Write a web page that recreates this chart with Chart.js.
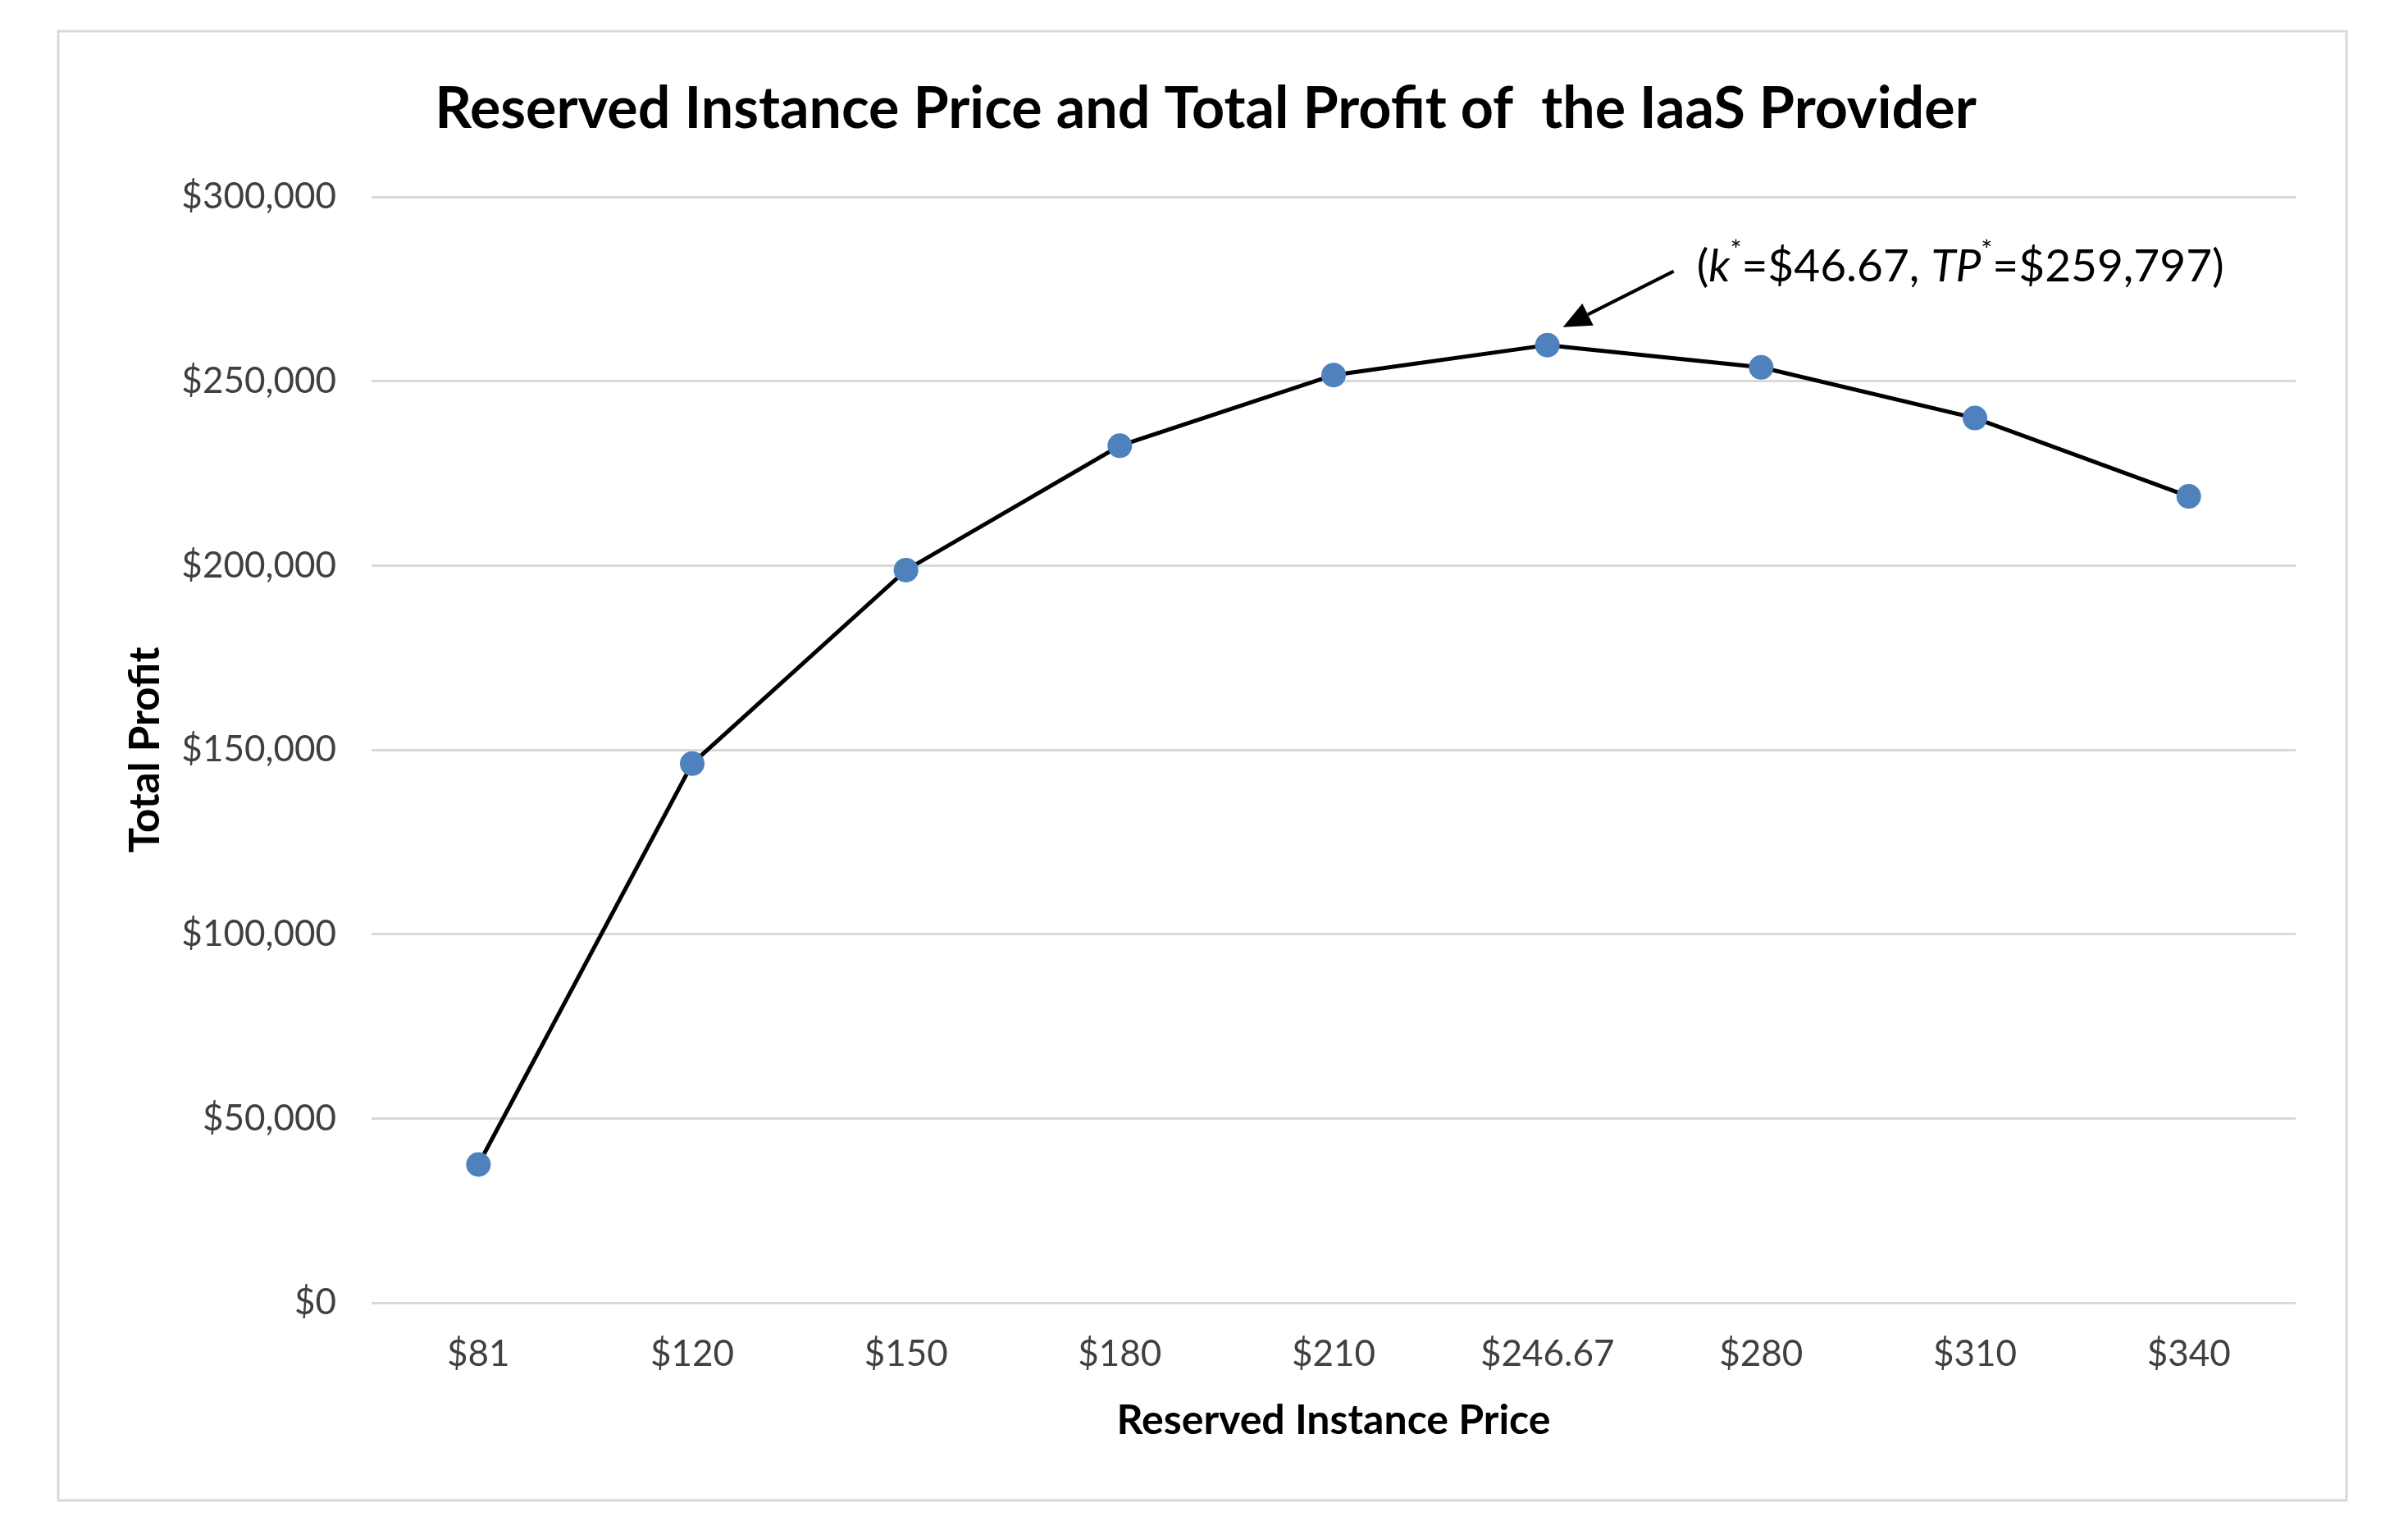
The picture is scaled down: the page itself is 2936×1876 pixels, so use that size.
<!DOCTYPE html>
<html>
<head>
<meta charset="utf-8">
<script src="https://cdn.jsdelivr.net/npm/chart.js@4"></script>
<style>
  html, body { margin: 0; padding: 0; background: #ffffff; }
  #c { display: block; width: 2936px; height: 1876px; }
</style>
</head>
<body>
<canvas id="c" width="2936" height="1876"></canvas>
<script>
// ---- data ----
const categories = ['$81', '$120', '$150', '$180', '$210', '$246.67', '$280', '$310', '$340'];
const profits = [37500, 146250, 198750, 232500, 251667, 259797, 253750, 240000, 218750];
const yTicks = [0, 50000, 100000, 150000, 200000, 250000, 300000];
const chartTitle = 'Reserved Instance Price and Total Profit of  the IaaS Provider';
const xTitle = 'Reserved Instance Price';
const yTitle = 'Total Profit';
const optimumIndex = 5;
const optimumK = '$46.67';
const optimumTP = '$259,797';

const FONT = 'Lato, "Open Sans", "DejaVu Sans", sans-serif';

function money(v) {
  return '$' + Number(v).toLocaleString('en-US');
}

const decorPlugin = {
  id: 'decor',
  beforeDraw(chart) {
    const ctx = chart.ctx;
    ctx.save();
    ctx.fillStyle = '#ffffff';
    ctx.fillRect(0, 0, chart.width, chart.height);
    ctx.strokeStyle = '#d9d9d9';
    ctx.lineWidth = 3;
    ctx.strokeRect(71, 38, 2790, 1791);
    ctx.restore();
  },
  afterDraw(chart) {
    const ctx = chart.ctx;
    ctx.save();
    // chart title
    ctx.fillStyle = '#000000';
    ctx.font = 'bold 70px ' + FONT;
    ctx.textAlign = 'center';
    ctx.textBaseline = 'middle';
    ctx.fillText(chartTitle, 1470, 133);

    // annotation anchored to optimum point
    const xs = chart.scales.x, ys = chart.scales.y;
    const px = xs.getPixelForValue(optimumIndex);
    const py = ys.getPixelForValue(profits[optimumIndex]);
    const tipX = px + 19, tipY = py - 22;
    const startX = px + 154, startY = py - 90;
    const ang = Math.atan2(tipY - startY, tipX - startX);
    const headLen = 34, headW = 15;
    const baseX = tipX - headLen * Math.cos(ang), baseY = tipY - headLen * Math.sin(ang);
    ctx.strokeStyle = '#000000';
    ctx.lineWidth = 4;
    ctx.beginPath();
    ctx.moveTo(startX, startY);
    ctx.lineTo(baseX, baseY);
    ctx.stroke();
    ctx.beginPath();
    ctx.moveTo(tipX, tipY);
    ctx.lineTo(baseX + headW * Math.sin(ang), baseY - headW * Math.cos(ang));
    ctx.lineTo(baseX - headW * Math.sin(ang), baseY + headW * Math.cos(ang));
    ctx.closePath();
    ctx.fillStyle = '#000000';
    ctx.fill();

    // annotation text with italic symbols and superscript stars
    const parts = [
      { t: '(', f: '55px ' + FONT, dy: 0 },
      { t: 'k', f: 'italic 55px ' + FONT, dy: 0 },
      { t: '*', f: '33px ' + FONT, dy: -20 },
      { t: '=' + optimumK + ', ', f: '55px ' + FONT, dy: 0 },
      { t: 'TP', f: 'italic 55px ' + FONT, dy: 0 },
      { t: '*', f: '33px ' + FONT, dy: -20 },
      { t: '=' + optimumTP + ')', f: '55px ' + FONT, dy: 0 }
    ];
    let tx = px + 182;
    const ty = py - 95;
    ctx.textAlign = 'left';
    ctx.textBaseline = 'middle';
    ctx.fillStyle = '#000000';
    for (const p of parts) {
      ctx.font = p.f;
      ctx.fillText(p.t, tx, ty + p.dy);
      tx += ctx.measureText(p.t).width;
    }
    ctx.restore();
  }
};

new Chart(document.getElementById('c'), {
  type: 'line',
  data: {
    labels: categories,
    datasets: [{
      label: yTitle,
      data: profits,
      borderColor: '#000000',
      borderWidth: 5,
      backgroundColor: '#4f81bd',
      pointBackgroundColor: '#4f81bd',
      pointBorderColor: '#4f81bd',
      pointBorderWidth: 0,
      pointRadius: 15,
      tension: 0,
      fill: false
    }]
  },
  options: {
    responsive: false,
    devicePixelRatio: 1,
    animation: false,
    layout: { padding: { left: 120, right: 137, top: 240, bottom: 88 } },
    plugins: {
      legend: { display: false },
      title: { display: false },
      tooltip: { enabled: false }
    },
    scales: {
      x: {
        type: 'category',
        offset: true,
        grid: { display: false, drawTicks: false },
        border: { display: false },
        ticks: {
          color: '#404040',
          font: { family: FONT, size: 44 },
          padding: 36,
          maxRotation: 0,
          autoSkip: false
        },
        title: {
          display: true,
          text: xTitle,
          color: '#000000',
          font: { family: FONT, size: 50, weight: 'bold' },
          padding: { top: 0, bottom: 26 }
        },
        afterFit(s) { s.height = 200; }
      },
      y: {
        min: 0,
        max: 300000,
        afterBuildTicks(s) { s.ticks = yTicks.map(v => ({ value: v })); },
        grid: { color: '#d9d9d9', lineWidth: 3, drawTicks: false },
        border: { display: false },
        ticks: {
          color: '#404040',
          font: { family: FONT, size: 44 },
          padding: 43,
          callback: (v) => money(v)
        },
        title: {
          display: true,
          text: yTitle,
          color: '#000000',
          font: { family: FONT, size: 51, weight: 'bold' },
          padding: { top: 27, bottom: 0 }
        },
        afterFit(s) { s.width = 333; }
      }
    }
  },
  plugins: [decorPlugin]
});
</script>
</body>
</html>
